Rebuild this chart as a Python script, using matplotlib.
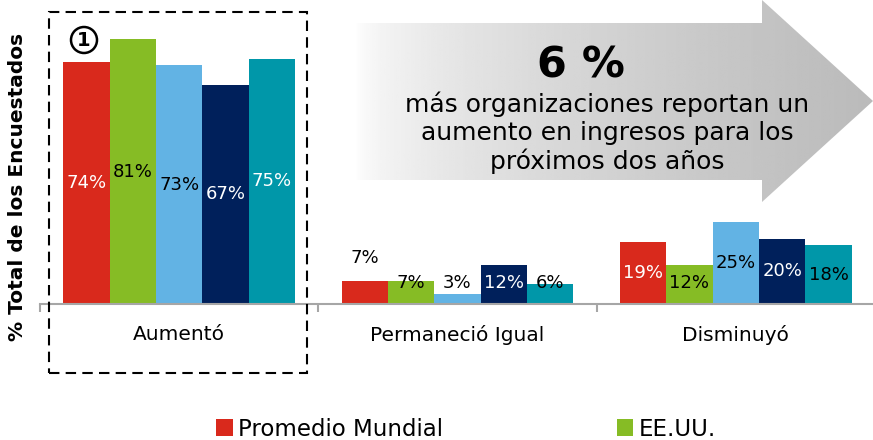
import matplotlib.pyplot as plt
import numpy as np
from matplotlib.patches import Polygon, Rectangle

# datos
categorias = ['Aumentó', 'Permaneció Igual', 'Disminuyó']
series = ['Promedio Mundial', 'EE.UU.', 'Serie 3', 'Serie 4', 'Serie 5']
valores = [
    [74, 7, 19],   # Promedio Mundial
    [81, 7, 12],   # EE.UU.
    [73, 3, 25],
    [67, 12, 20],
    [75, 6, 18],
]
colores = ['#d9291c', '#86bc25', '#62b3e4', '#00205b', '#0097a9']
# color del texto de cada etiqueta (serie x categoria)
color_texto = [
    ['white', 'black', 'white'],
    ['black', 'black', 'black'],
    ['black', 'black', 'black'],
    ['white', 'white', 'white'],
    ['white', 'black', 'black'],
]

W, H = 873, 440
fig = plt.figure(figsize=(W / 100, H / 100), dpi=100)

# flecha gris con degradado (detrás del gráfico)
ax_f = fig.add_axes([355 / W, 1 - 202 / H, (873 - 355) / W, 202 / H])
ax_f.set_xlim(355, 873)
ax_f.set_ylim(202, 0)
ax_f.axis('off')
flecha = Polygon([(355, 23), (762, 23), (762, 0), (873, 101), (762, 202),
                  (762, 180), (355, 180)], closed=True, facecolor='none',
                 edgecolor='none')
ax_f.add_patch(flecha)
grad = np.linspace(0, 1, 256) ** 0.6
grad = 1.0 - 0.27 * grad
img = ax_f.imshow(np.vstack([grad, grad]), cmap='gray', vmin=0, vmax=1,
                  extent=[355, 873, 202, 0], aspect='auto')
img.set_clip_path(flecha)

# gráfico de barras
ax = fig.add_axes([40 / W, 1 - 304 / H, 835 / W, 304 / H])
ax.patch.set_alpha(0)
x = np.arange(len(categorias))
ancho = 1 / 6
for i, (serie, vals) in enumerate(zip(series, valores)):
    pos = x + (i - 2) * ancho
    ax.bar(pos, vals, width=ancho, color=colores[i], label=serie)
    for j, v in enumerate(vals):
        if v >= 15:
            y = v / 2
        elif i == 0:
            y = 14
        else:
            y = 6.5
        ax.text(pos[j], y, f'{v}%', ha='center', va='center', fontsize=13,
                color=color_texto[i][j])

ax.set_xlim(-0.5, 2.5)
ax.set_ylim(0, 93)
ax.set_yticks([])
for s in ['top', 'right', 'left']:
    ax.spines[s].set_visible(False)
ax.spines['bottom'].set_color('#a6a6a6')
ax.spines['bottom'].set_linewidth(1.5)
ax.set_xticks(x)
ax.set_xticklabels(categorias, fontsize=14.5)
ax.tick_params(axis='x', which='major', length=0, pad=15)
ax.set_xticks([-0.5, 0.5, 1.5, 2.5], minor=True)
ax.tick_params(axis='x', which='minor', length=6, width=1.5, color='#a6a6a6')

fig.text(18 / W, 1 - 187 / H, '% Total de los Encuestados', rotation=90,
         ha='center', va='center', fontsize=14.5, fontweight='bold')

# recuadro punteado
fig.add_artist(Rectangle((49 / W, 1 - 373 / H), 258 / W, 361 / H,
                         transform=fig.transFigure, fill=False,
                         edgecolor='black', lw=1.5, linestyle=(0, (5, 3))))
fig.text(84 / W, 1 - 40 / H, '1', ha='center', va='center', fontsize=14,
         fontweight='bold',
         bbox=dict(boxstyle='circle,pad=0.18', fc='white', ec='black', lw=1.8))

# texto de la flecha
fig.text(581 / W, 1 - 65 / H, '6 %', ha='center', va='center', fontsize=31,
         fontweight='bold')
fig.text(607 / W, 1 - 133 / H,
         'más organizaciones reportan un\naumento en ingresos para los\npróximos dos años',
         ha='center', va='center', fontsize=18, linespacing=1.18)

# leyenda (en el borde inferior)
h, l = ax.get_legend_handles_labels()
fig.legend(h[:2], l[:2], ncol=2, loc='lower left',
           bbox_to_anchor=(215 / W, -0.004), frameon=False,
           fontsize=16.5, handlelength=0.72, handleheight=0.72,
           handletextpad=0.22, columnspacing=7.6, borderaxespad=0,
           borderpad=0.05)

fig.savefig('out.png', dpi=100)
